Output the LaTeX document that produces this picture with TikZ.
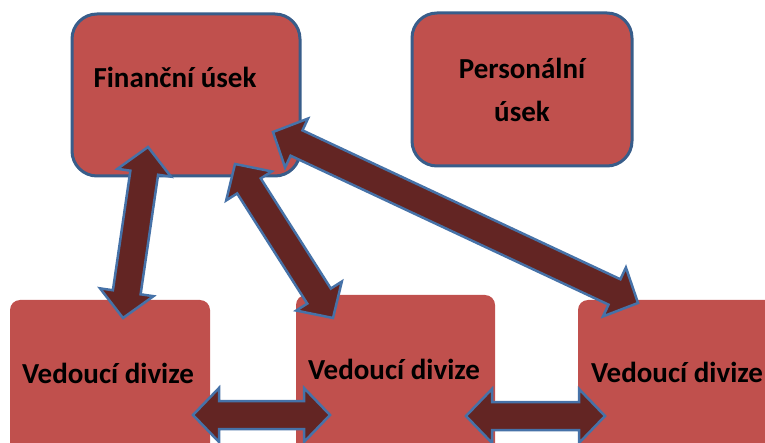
\documentclass[tikz,border=0pt]{standalone}
\usepackage{fontspec}
\setmainfont{Carlito}
\usetikzlibrary{calc}
\definecolor{boxred}{HTML}{C0504D}
\definecolor{boxblue}{HTML}{385D8A}
\definecolor{arrred}{HTML}{632523}
\definecolor{arrblue}{HTML}{4672A8}
\tikzset{
  topbox/.style={draw=boxblue, line width=3pt, fill=boxred, rounded corners=25pt, inner sep=0pt},
  botbox/.style={fill=boxred, rounded corners=10pt, inner sep=0pt},
  lbl/.style={font=\fontsize{29}{43}\selectfont\bfseries, text=black, inner sep=0pt},
  dblarrow/.style={draw=arrblue, line width=2.5pt, fill=arrred, line join=miter}
}
\newcommand\hl{26pt}
\newcommand\hw{27pt}
\newcommand\sw{14pt}
\newcommand\dblarr[2]{%
  \filldraw[dblarrow] (#1)
    -- ($(#1)!\hl!(#2)!\hw!90:(#2)$)
    -- ($(#1)!\hl!(#2)!\sw!90:(#2)$)
    -- ($(#2)!\hl!(#1)!\sw!-90:(#1)$)
    -- ($(#2)!\hl!(#1)!\hw!-90:(#1)$)
    -- (#2)
    -- ($(#2)!\hl!(#1)!\hw!90:(#1)$)
    -- ($(#2)!\hl!(#1)!\sw!90:(#1)$)
    -- ($(#1)!\hl!(#2)!\sw!-90:(#2)$)
    -- ($(#1)!\hl!(#2)!\hw!-90:(#2)$)
    -- cycle;}
\begin{document}
\begin{tikzpicture}[x=1pt,y=-1pt]
\useasboundingbox (0,0) rectangle (765,443);
\clip (0,0) rectangle (765,443);
% boxes
\node[topbox, minimum width=228pt, minimum height=162pt] (fin) at (186,95) {};
\node[topbox, minimum width=220pt, minimum height=153pt, lbl, align=center] (pers) at (522,89.5) {Personální\\úsek};
\node[botbox, minimum width=200pt, minimum height=240pt] (v1) at (110,420) {};
\node[botbox, minimum width=199pt, minimum height=240pt] (v2) at (395.5,415) {};
\node[botbox, minimum width=240pt, minimum height=240pt] (v3) at (698,420) {};
% labels
\node[lbl, anchor=base] (fint) at (175,88) {Finanční úsek};
\node[lbl, anchor=base] (v1t) at (108,383) {Vedoucí divize};
\node[lbl, anchor=base] (v2t) at (394,379) {Vedoucí divize};
\node[lbl, anchor=base] (v3t) at (677,382) {Vedoucí divize};
% arrow tips
\coordinate (a1) at (148,147);
\coordinate (a2) at (123,318);
\coordinate (b1) at (235,164);
\coordinate (b2) at (333,318);
\coordinate (c1) at (273,132);
\coordinate (c2) at (638,303);
\coordinate (d1) at (193,415);
\coordinate (d2) at (330,415);
\coordinate (e1) at (466,416);
\coordinate (e2) at (605,416);
\dblarr{a1}{a2}
\dblarr{b1}{b2}
\dblarr{c1}{c2}
\dblarr{d1}{d2}
\dblarr{e1}{e2}
\end{tikzpicture}
\end{document}
